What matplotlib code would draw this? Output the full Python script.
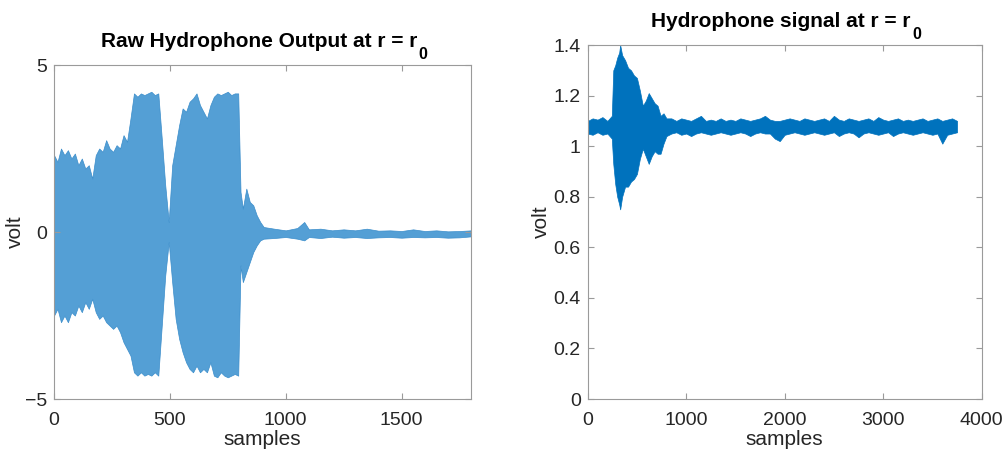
import matplotlib.pyplot as plt

plt.rcParams['font.family'] = ['Liberation Sans', 'DejaVu Sans']

# raw hydrophone output: envelope
raw_samples = list(range(0, 796, 15)) + [805, 815, 830, 845, 860, 875, 890, 905,
                                         950, 1000, 1050, 1080, 1100, 1150, 1200, 1250,
                                         1300, 1350, 1400, 1450, 1500, 1550, 1600, 1650,
                                         1700, 1750, 1800]
raw_upper = [2.3, 2.1, 2.5, 2.3, 2.45, 2.2, 2.35, 2.0, 2.2, 1.9,
             2.0, 1.6, 2.3, 2.5, 2.4, 2.75, 2.5, 2.4, 2.6, 2.5,
             2.9, 2.7, 3.4, 4.15, 4.05, 4.15, 4.1, 4.15, 4.2, 4.1,
             4.15, 2.8, 1.4, 0.3, 2.0, 2.6, 3.2, 3.7, 3.6, 3.9,
             4.0, 4.15, 3.8, 3.6, 3.4, 3.8, 4.05, 4.15, 4.1, 4.15,
             4.2, 4.1, 4.15, 4.15,
             1.2, 0.7, 1.3, 0.9, 0.8, 0.5, 0.3, 0.15,
             0.1, 0.05, 0.12, 0.3, 0.08, 0.1, 0.05, 0.08,
             0.05, 0.1, 0.04, 0.05, 0.03, 0.08, 0.03, 0.05,
             0.02, 0.03, 0.05]
raw_lower = [-2.5, -2.3, -2.7, -2.5, -2.7, -2.4, -2.5, -2.2, -2.4, -2.1,
             -2.3, -2.0, -2.4, -2.6, -2.5, -2.7, -2.8, -2.9, -2.8, -3.0,
             -3.3, -3.5, -3.7, -4.2, -4.3, -4.2, -4.3, -4.25, -4.3, -4.2,
             -4.3, -2.8, -1.3, -0.3, -1.5, -2.6, -3.2, -3.6, -3.9, -4.1,
             -4.2, -4.0, -4.2, -4.1, -4.2, -3.9, -4.3, -4.35, -4.2, -4.3,
             -4.35, -4.3, -4.25, -4.3,
             -1.0, -1.5, -1.2, -0.9, -0.6, -0.4, -0.25, -0.2,
             -0.18, -0.15, -0.2, -0.25, -0.15, -0.18, -0.14, -0.17,
             -0.15, -0.18, -0.16, -0.15, -0.17, -0.15, -0.16, -0.15,
             -0.17, -0.16, -0.13]

# hydrophone signal: first sample, then envelope
sig_start_samples = [0, 1]
sig_start_values = [0.0, 1.08]
sig_samples = [1, 50, 100, 150, 200, 245, 260, 280, 300, 320, 330, 350, 380, 410,
               440, 470, 500, 530, 560, 590, 620, 650, 680, 710, 740, 770, 800] + \
    list(range(850, 3751, 50))
sig_upper = [1.10, 1.11, 1.105, 1.115, 1.10, 1.12, 1.30, 1.32, 1.35, 1.37, 1.40, 1.36, 1.34, 1.31,
             1.30, 1.28, 1.27, 1.22, 1.16, 1.18, 1.21, 1.19, 1.17, 1.16, 1.12, 1.13, 1.11,
             1.11, 1.10, 1.11, 1.105, 1.10, 1.11, 1.12, 1.10, 1.105, 1.10,
             1.11, 1.10, 1.105, 1.10, 1.11, 1.105, 1.10, 1.105, 1.11, 1.12,
             1.105, 1.10, 1.10, 1.105, 1.11, 1.105, 1.10, 1.11, 1.105, 1.10,
             1.105, 1.11, 1.10, 1.12, 1.105, 1.10, 1.11, 1.105, 1.10, 1.105,
             1.11, 1.10, 1.115, 1.105, 1.10, 1.105, 1.11, 1.10, 1.105, 1.10,
             1.105, 1.11, 1.10, 1.105, 1.11, 1.10, 1.105, 1.11, 1.10]
sig_lower = [1.05, 1.045, 1.055, 1.045, 1.05, 1.03, 0.93, 0.85, 0.80, 0.77, 0.75, 0.80, 0.84, 0.84,
             0.86, 0.87, 0.89, 0.95, 0.99, 0.96, 0.93, 0.96, 0.98, 0.97, 0.97, 1.01, 1.04,
             1.05, 1.055, 1.045, 1.05, 1.04, 1.05, 1.055, 1.05, 1.045, 1.05,
             1.055, 1.05, 1.045, 1.05, 1.055, 1.05, 1.04, 1.05, 1.055, 1.05,
             1.05, 1.03, 1.02, 1.045, 1.05, 1.055, 1.05, 1.045, 1.05, 1.055,
             1.05, 1.045, 1.05, 1.055, 1.04, 1.05, 1.055, 1.05, 1.035, 1.05,
             1.055, 1.05, 1.045, 1.05, 1.055, 1.04, 1.05, 1.055, 1.05, 1.045,
             1.05, 1.055, 1.05, 1.045, 1.05, 1.01, 1.045, 1.05, 1.055]

light_blue = '#549fd5'
matlab_blue = '#0072BD'
grey = '#262626'


def style_axes(ax):
    for s in ax.spines.values():
        s.set_color('#9a9a9a')
        s.set_linewidth(0.8)
    ax.tick_params(direction='in', top=True, right=True, length=4, pad=5,
                   colors='#9a9a9a', labelcolor=grey, labelsize=14)
    ax.tick_params(axis='x', pad=9)


def title_with_sub(ax, text, sub):
    # MATLAB style title: the subscript hangs below the baseline
    ax.set_title(text, fontsize=15, fontweight='bold', pad=13,
                 x=0.5 - 3.5 / ax.bbox.width)
    fig.canvas.draw()
    bb = ax.title.get_window_extent()
    fig.text(bb.x1 + 1, bb.y0 + 4, sub, fontsize=11.5, fontweight='bold',
             ha='left', va='top', transform=None)


fig = plt.figure(figsize=(10.08, 4.54), dpi=100)

ax1 = fig.add_axes([0.0536, 0.1211, 0.4137, 0.7357])
ax1.fill_between(raw_samples, raw_lower, raw_upper, color=light_blue, lw=0.5, ec='#3a8dcb')
ax1.set_xlim(0, 1800)
ax1.set_ylim(-5, 5)
ax1.set_xticks([0, 500, 1000, 1500])
ax1.set_yticks([-5, 0, 5])
ax1.set_xlabel('samples', fontsize=15, color=grey, labelpad=1)
ax1.set_ylabel('volt', fontsize=15, color=grey, labelpad=0)
style_axes(ax1)

ax2 = fig.add_axes([0.583, 0.1211, 0.3909, 0.7797])
ax2.fill_between(sig_samples, sig_lower, sig_upper, color=matlab_blue, lw=0.5)
ax2.plot(sig_start_samples, sig_start_values, color=matlab_blue, lw=1)
ax2.set_xlim(0, 4000)
ax2.set_ylim(0, 1.4)
ax2.set_xticks([0, 1000, 2000, 3000, 4000])
ax2.set_yticks([0, 0.2, 0.4, 0.6, 0.8, 1.0, 1.2, 1.4])
ax2.set_yticklabels(['0', '0.2', '0.4', '0.6', '0.8', '1', '1.2', '1.4'])
ax2.set_xlabel('samples', fontsize=15, color=grey, labelpad=1)
ax2.set_ylabel('volt', fontsize=15, color=grey, labelpad=2)
style_axes(ax2)

title_with_sub(ax1, 'Raw Hydrophone Output at r = r', '0')
title_with_sub(ax2, 'Hydrophone signal at r = r', '0')

fig.savefig('out.png', dpi=100)
